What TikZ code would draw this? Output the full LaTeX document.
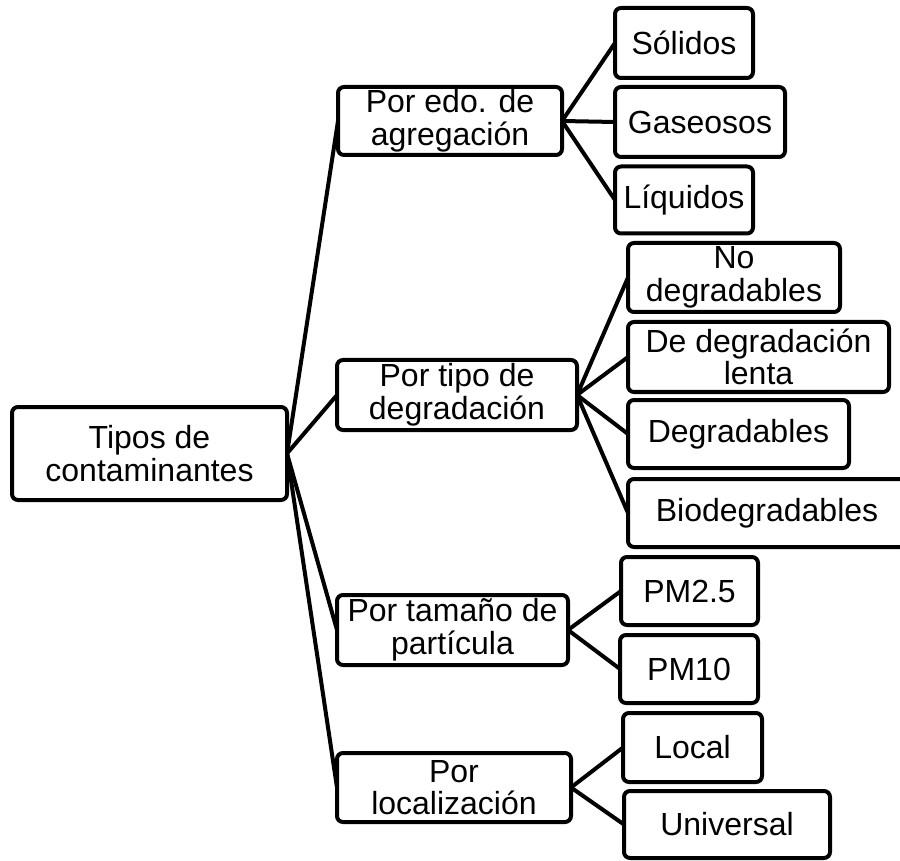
\documentclass[tikz,border=0pt]{standalone}
\usepackage{fontspec}
\setmainfont{Liberation Sans}
\begin{document}
\begin{tikzpicture}[x=0.5pt,y=-0.5pt,
  box/.style={draw=black, line width=2pt, rounded corners=3pt, fill=white,
    inner sep=0pt, outer sep=0pt, align=center,
    font=\fontsize{16}{16.3}\selectfont},
  link/.style={draw=black, line width=2pt}]
\useasboundingbox (0,0) rectangle (900,861);
% dimensions of each box: width and height in px, 1px = 0.5pt
\newcommand{\bx}[6]{\node[box, minimum width=#3*0.5pt, minimum height=#4*0.5pt] (#5) at (#1,#2) {#6};}
% root
\bx{149.5}{453.5}{275}{93}{root}{Tipos de\\contaminantes}
% first level
\bx{450}{121}{224}{68}{agr}{Por edo. de\\agregación}
\bx{457}{395}{240}{70}{deg}{Por tipo de\\degradación}
\bx{452.5}{630}{231}{70}{tam}{Por tamaño de\\partícula}
\bx{454}{787.5}{234}{69}{loc}{Por\\localización}
% second level
\bx{684}{43}{138}{70}{sol}{Sólidos}
\bx{700}{122}{170}{70}{gas}{Gaseosos}
\bx{684}{200}{138}{67}{liq}{Líquidos}
\bx{734}{277.5}{212}{69}{nodeg}{No\\degradables}
\bx{758.5}{357}{261}{70}{lenta}{De degradación\\lenta}
\bx{738.5}{434}{221}{68}{degr}{Degradables}
\bx{767}{513}{278}{68}{bio}{Biodegradables}
\bx{689.5}{591}{137}{68}{pmA}{PM2.5}
\bx{689}{669}{138}{68}{pmB}{PM10}
\bx{692.5}{747.5}{139}{69}{local}{Local}
\bx{727}{824.5}{206}{67}{univ}{Universal}
% connectors
\foreach \c in {agr,deg,tam,loc}
  \draw[link] (root.east) -- (\c.west);
\foreach \c in {sol,gas,liq}
  \draw[link] (agr.east) -- (\c.west);
\foreach \c in {nodeg,lenta,degr,bio}
  \draw[link] (deg.east) -- (\c.west);
\foreach \c in {pmA,pmB}
  \draw[link] (tam.east) -- (\c.west);
\foreach \c in {local,univ}
  \draw[link] (loc.east) -- (\c.west);
\end{tikzpicture}
\end{document}
